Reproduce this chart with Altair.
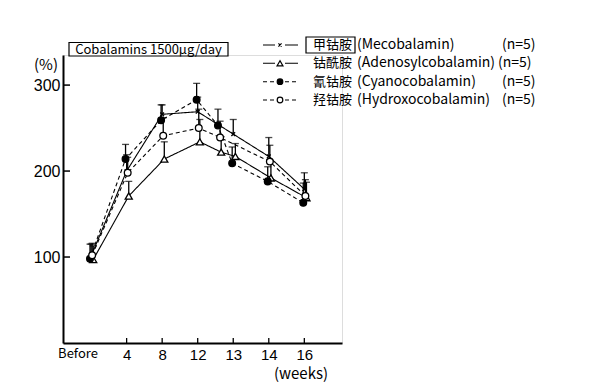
import altair as alt
import pandas as pd

# ---- data ----
timepoints = ["Before", "4", "8", "12", "12+", "13", "14", "16"]
time_pos = [0, 1, 2, 3, 3.6, 4, 5, 6]

series_names = ["Mecobalamin", "Adenosylcobalamin", "Cyanocobalamin", "Hydroxocobalamin"]
meco_mean = [101, 200, 266, 269, None, 243, 217, 179]
meco_upper = [115, 219, 277, 286, None, 260, 239, 198]
adeno_mean = [97, 171, 214, 234, 222, 217, 192, 169]
adeno_upper = [113, 188, 234, 260, 240, 232, 211, 187]
cyano_mean = [98, 214, 259, 283, 253, 209, 188, 163]
cyano_upper = [115, 231, 277, 302, 272, 228, 205, 186]
hydroxo_mean = [102, 198, 241, 250, 239, None, 211, 171]
hydroxo_upper = [116, 216, 262, 272, 258, None, 230, 190]

tick_labels = ["4", "8", "12", "13", "14", "16"]
tick_pos = [1, 2, 3, 4, 5, 6]
y_ticks = [100, 200, 300]

legend_cn = ["甲钴胺", "钴酰胺", "氰钴胺", "羟钴胺"]
legend_en = ["(Mecobalamin)", "(Adenosylcobalamin)", "(Cyanocobalamin)", "(Hydroxocobalamin)"]
legend_n = ["(n=5)", "(n=5)", "(n=5)", "(n=5)"]

# ---- build table ----
offsets = {"Mecobalamin": 0.0, "Adenosylcobalamin": 0.06, "Cyanocobalamin": -0.03, "Hydroxocobalamin": 0.03}
all_means = [meco_mean, adeno_mean, cyano_mean, hydroxo_mean]
all_uppers = [meco_upper, adeno_upper, cyano_upper, hydroxo_upper]
rows = []
for name, means, ups in zip(series_names, all_means, all_uppers):
    for t, p, m, u in zip(timepoints, time_pos, means, ups):
        if m is None:
            continue
        rows.append({"series": name, "t": t, "pos": p + offsets[name], "mean": m, "upper": u})
df = pd.DataFrame(rows)

W, H = 279, 288
FONT = "Noto Sans CJK JP"
xs = alt.Scale(domain=[-0.79, 7.06], nice=False, zero=False)
ys = alt.Scale(domain=[0, 335], nice=False, zero=False)

X = alt.X("pos:Q", scale=xs,
          axis=alt.Axis(values=tick_pos, labelExpr="['Before','4','8','12','13','14','16'][round(datum.value)]",
                        ticks=False, tickSize=0, grid=False, domainColor="black", domainWidth=2,
                        labelColor="black", labelFontSize=15, labelFont="Liberation Sans",
                        labelPadding=4, title=None))
Y = alt.Y("mean:Q", scale=ys,
          axis=alt.Axis(values=y_ticks, ticks=False, tickSize=0, grid=False, domainColor="black",
                        domainWidth=2, labelColor="black", labelFontSize=16, labelFont="Liberation Sans",
                        labelPadding=3, title=None))

style = {
    "Mecobalamin": dict(dash=[1, 0], shape="M-1,-1L1,1M1,-1L-1,1", fill="none", size=14),
    "Adenosylcobalamin": dict(dash=[1, 0], shape="triangle-up", fill="white", size=50),
    "Cyanocobalamin": dict(dash=[4, 3], shape="circle", fill="black", size=45),
    "Hydroxocobalamin": dict(dash=[4, 3], shape="circle", fill="white", size=45),
}

base = alt.Chart(df)
layers = []
for name in series_names:
    s = style[name]
    d = base.transform_filter(alt.datum.series == name)
    layers.append(d.mark_line(color="black", strokeWidth=1.1, strokeDash=s["dash"]).encode(x=X, y=Y, order="pos:Q"))
for name in series_names:
    d = base.transform_filter(alt.datum.series == name)
    layers.append(d.mark_rule(color="black", strokeWidth=1.3).encode(x=X, y=Y, y2="upper:Q"))
    layers.append(d.mark_tick(color="black", thickness=1.3, size=7, orient="horizontal").encode(
        x=X, y=alt.Y("upper:Q", scale=ys)))
for name in series_names:
    s = style[name]
    d = base.transform_filter(alt.datum.series == name)
    layers.append(d.mark_point(shape=s["shape"], filled=False, fill=s["fill"], stroke="black",
                               strokeWidth=1.3, size=s["size"], opacity=1).encode(x=X, y=Y))

one = pd.DataFrame({"k": [0]})
# inward ticks
xt = alt.Chart(pd.DataFrame({"tp": tick_pos})).mark_rule(color="black", strokeWidth=1.3).encode(
    x=alt.X("tp:Q", scale=xs), y=alt.value(H), y2=alt.value(H - 5))
yt = alt.Chart(pd.DataFrame({"yv": y_ticks})).mark_rule(color="black", strokeWidth=1.5).encode(
    y=alt.Y("yv:Q", scale=ys), x=alt.value(0), x2=alt.value(7))
layers += [xt, yt]

txt = lambda **kw: alt.Chart(one).mark_text(font=FONT, color="black", **kw)
layers.append(txt(text="Before", fontSize=13, align="center", baseline="top").encode(
    x=alt.value(15), y=alt.value(H + 5)))
layers.append(txt(text="(weeks)", fontSize=15, align="center", baseline="middle").encode(
    x=alt.value(238), y=alt.value(H + 31)))
layers.append(txt(text="(%)", fontSize=15, align="center", baseline="middle").encode(
    x=alt.value(-17), y=alt.value(10)))
# title box
layers.append(alt.Chart(one).mark_rect(fill="white", stroke="black", strokeWidth=1.2).encode(
    x=alt.value(6), x2=alt.value(165), y=alt.value(-12.5), y2=alt.value(1)))
layers.append(txt(text="Cobalamins 1500μg/day", fontSize=13, align="center", baseline="middle").encode(
    x=alt.value(85.5), y=alt.value(-5.5)))

# legend
row_y = [-10, 8.3, 26.7, 45]
leg_order = ["Mecobalamin", "Adenosylcobalamin", "Cyanocobalamin", "Hydroxocobalamin"]
n_x = [439, 435, 439, 439]
for i, name in enumerate(leg_order):
    s = style[name]
    yv = row_y[i]
    for a, b in [(200, 212), (222, 235)]:
        layers.append(alt.Chart(one).mark_rule(color="black", strokeWidth=1.1, strokeDash=s["dash"]).encode(
            x=alt.value(a), x2=alt.value(b), y=alt.value(yv)))
    layers.append(alt.Chart(one).mark_point(shape=s["shape"], filled=False, fill=s["fill"], stroke="black",
                                            strokeWidth=1.2, size=s["size"] * 0.7, opacity=1).encode(
        x=alt.value(217), y=alt.value(yv)))
    layers.append(txt(text=legend_cn[i], fontSize=13, align="left", baseline="middle").encode(
        x=alt.value(250), y=alt.value(yv)))
    layers.append(txt(text=legend_en[i], fontSize=14, align="left", baseline="middle").encode(
        x=alt.value(294), y=alt.value(yv)))
    layers.append(txt(text=legend_n[i], fontSize=14, align="left", baseline="middle").encode(
        x=alt.value(n_x[i]), y=alt.value(yv)))
layers.append(alt.Chart(one).mark_rect(fill=None, stroke="black", strokeWidth=1.2).encode(
    x=alt.value(243), x2=alt.value(292), y=alt.value(-18), y2=alt.value(-2)))

chart = alt.layer(*layers).properties(
    width=W, height=H,
    autosize=alt.AutoSizeParams(type="none"),
    padding={"left": 55, "top": 47, "right": 220, "bottom": 40},
).configure_view(stroke=None).configure(background="white")

chart.save("out.html", embed_options={"renderer": "svg", "actions": False})
